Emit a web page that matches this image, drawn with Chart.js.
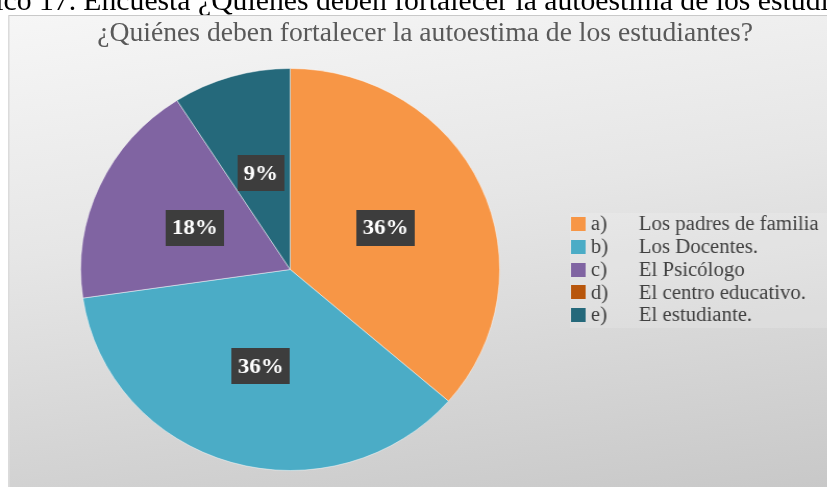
<!DOCTYPE html>
<html>
<head>
<meta charset="utf-8">
<script src="https://cdn.jsdelivr.net/npm/chart.js@4/dist/chart.umd.min.js"></script>
<style>
  html, body { margin: 0; padding: 0; background: #ffffff; width: 827px; height: 487px; overflow: hidden; }
  #page { position: absolute; left: 0; top: 0; width: 794px; height: 487px; transform: scaleX(1.042); transform-origin: 0 0; }
  .cap { position: absolute; top: -16px; white-space: nowrap; font-family: "Liberation Serif", "Times New Roman", serif; font-size: 28.5px; color: #000; line-height: 34px; }
  #caption { left: 80px; }
  #capPrefix { right: 721px; }
  #box { position: absolute; left: 8px; top: 15px; width: 820px; height: 490px; border: 1px solid #c9c9c9;
         background: linear-gradient(172deg, #f6f6f6 0%, #e6e6e6 40%, #d6d6d6 70%, #c6c6c6 100%); }
  #title { position: absolute; top: 17px; left: 0; width: 816px; text-align: center; font-family: "Liberation Serif", "Times New Roman", serif; font-size: 26.5px; line-height: 30px; color: #595959; white-space: nowrap; }
  #c { position: absolute; left: 0; top: 0; }
</style>
</head>
<body>
<div id="page">
<div id="capPrefix" class="cap">Gráfico 17.</div>
<div id="caption" class="cap">Encuesta ¿Quiénes deben fortalecer la autoestima de los estudiantes</div>
<div id="box"></div>
<div id="title">¿Quiénes deben fortalecer la autoestima de los estudiantes?</div>
<canvas id="c" width="794" height="487"></canvas>
</div>
<script>
const legendKeys = ["a)", "b)", "c)", "d)", "e)"];
const categories = ["Los padres de familia", "Los Docentes.", "El Psicólogo", "El centro educativo.", "El estudiante."];
const percentages = [36, 36, 18, 0, 9];
const colors = ["#F79646", "#4BACC6", "#8064A2", "#B8560C", "#25697B"];

const labelBoxes = {
  id: "labelBoxes",
  afterDatasetsDraw(chart) {
    const ctx = chart.ctx;
    const meta = chart.getDatasetMeta(0);
    ctx.save();
    ctx.font = "bold 22px 'Liberation Serif', 'DejaVu Serif', serif";
    ctx.textAlign = "center";
    ctx.textBaseline = "middle";
    meta.data.forEach((arc, i) => {
      const v = chart.data.datasets[0].data[i];
      if (!v) return;
      const p = arc.tooltipPosition();
      const txt = v + "%";
      const w = ctx.measureText(txt).width + 12;
      const h = 36;
      ctx.fillStyle = "#3d3d3d";
      ctx.fillRect(Math.round(p.x - w / 2), Math.round(p.y - h / 2), Math.round(w), h);
      ctx.fillStyle = "#ffffff";
      ctx.fillText(txt, p.x, p.y + 1);
    });
    ctx.restore();
  }
};

const sideLegend = {
  id: "sideLegend",
  afterDraw(chart) {
    const ctx = chart.ctx;
    ctx.save();
    ctx.fillStyle = "rgba(255,255,255,0.15)";
    ctx.fillRect(547, 213, 247, 115);
    ctx.font = "20px 'Liberation Serif', 'Times New Roman', serif";
    ctx.textBaseline = "middle";
    ctx.textAlign = "left";
    categories.forEach((name, i) => {
      const y = 224 + i * 22.75;
      ctx.fillStyle = colors[i];
      ctx.fillRect(548, Math.round(y - 7), 14, 14);
      ctx.fillStyle = "#404040";
      ctx.fillText(legendKeys[i], 567, y + 1);
      ctx.fillText(name, 613, y + 1);
    });
    ctx.restore();
  }
};

new Chart(document.getElementById("c"), {
  type: "pie",
  data: {
    labels: categories,
    datasets: [{
      data: percentages,
      backgroundColor: colors,
      borderColor: "rgba(255,255,255,0.45)",
      borderWidth: 1
    }]
  },
  options: {
    responsive: false,
    animation: false,
    layout: { padding: { left: 77, right: 314, top: 68, bottom: 16 } },
    plugins: {
      legend: { display: false },
      tooltip: { enabled: false },
      title: { display: false }
    }
  },
  plugins: [labelBoxes, sideLegend]
});
</script>
</body>
</html>
